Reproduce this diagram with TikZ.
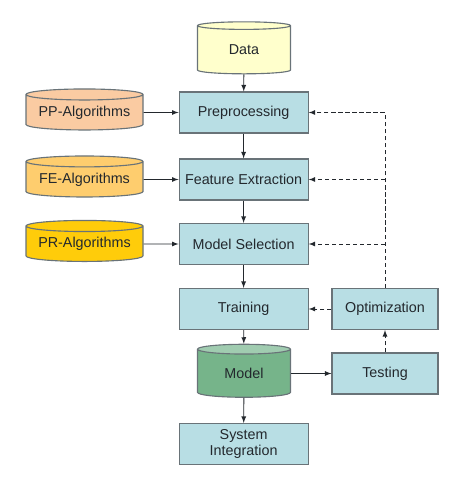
\documentclass[tikz,border=0pt]{standalone}
\usepackage{fontspec}
\setmainfont{Liberation Sans}
\usetikzlibrary{shapes.geometric}

\definecolor{linegray}{RGB}{105,115,120}
\definecolor{boxblue}{RGB}{184,222,228}
\definecolor{datayellow}{RGB}{255,255,204}
\definecolor{pppeach}{RGB}{250,203,162}
\definecolor{feorange}{RGB}{254,205,110}
\definecolor{prgold}{RGB}{255,204,10}
\definecolor{modelgreen}{RGB}{118,180,138}
\definecolor{modeltop}{RGB}{160,204,176}
\definecolor{textgray}{RGB}{35,40,45}

\tikzset{
  stepbox/.style={rectangle, draw=linegray, line width=0.8pt, fill=boxblue,
    minimum width=3.225cm, minimum height=1.025cm, inner sep=0pt,
    align=center, text=textgray, font=\fontsize{10.2}{12}\selectfont},
  store/.style={cylinder, shape border rotate=90, draw=linegray, line width=0.8pt,
    inner sep=0pt, text=textgray, font=\fontsize{10.2}{12}\selectfont},
  flow/.style={-latex, draw=textgray, line width=0.6pt},
  fback/.style={-latex, draw=textgray, line width=0.6pt, densely dashed}
}

\begin{document}
\begin{tikzpicture}[x=1cm, y=1cm]
  \useasboundingbox (0,0) rectangle (11.85,12.175);
  % Main column
  \node [store, aspect=0.25, minimum width=2.325cm, minimum height=1.3cm,
         fill=datayellow] (data) at (6.1,10.925) {Data};
  \node [stepbox] (pre) at (6.09,9.3625) {Preprocessing};
  \node [stepbox] (fe) at (6.09,7.6875) {Feature Extraction};
  \node [stepbox] (ms) at (6.09,6.075) {Model Selection};
  \node [stepbox] (train) at (6.09,4.45) {Training};
  \node [store, aspect=0.25, minimum width=2.325cm, minimum height=1.325cm,
         cylinder uses custom fill, cylinder body fill=modelgreen,
         cylinder end fill=modeltop] (model) at (6.1,2.8375) {Model};
  \node [stepbox] (si) at (6.09,1.075) {System\\Integration};
  % Right column
  \node [stepbox, minimum width=2.65cm] (opt) at (9.625,4.45) {Optimization};
  \node [stepbox, minimum width=2.65cm] (test) at (9.625,2.8375) {Testing};
  % Algorithm stores
  \node [store, aspect=0.12, minimum width=2.925cm, minimum height=1.025cm,
         fill=pppeach] (ppalg) at (2.1125,9.3625) {PP-Algorithms};
  \node [store, aspect=0.12, minimum width=2.925cm, minimum height=1.025cm,
         fill=feorange] (fealg) at (2.1125,7.6875) {FE-Algorithms};
  \node [store, aspect=0.12, minimum width=2.925cm, minimum height=1.025cm,
         fill=prgold] (pralg) at (2.1125,6.075) {PR-Algorithms};
  % Solid arrows
  \draw [flow] (data) -- (pre);
  \draw [flow] (pre) -- (fe);
  \draw [flow] (fe) -- (ms);
  \draw [flow] (ms) -- (train);
  \draw [flow] (train) -- (model);
  \draw [flow] (model) -- (si);
  \draw [flow] (model) -- (test);
  \draw [flow] (ppalg) -- (pre);
  \draw [flow] (fealg) -- (fe);
  \draw [flow] (pralg) -- (ms);
  % Dashed feedback
  \coordinate (fbpre) at (opt.north |- pre.east);
  \coordinate (fbfe) at (opt.north |- fe.east);
  \coordinate (fbms) at (opt.north |- ms.east);
  \draw [fback] (test) -- (opt);
  \draw [fback] (opt) -- (train);
  \draw [fback] (opt.north) -- (fbpre) -- (pre.east);
  \draw [fback] (fbfe) -- (fe.east);
  \draw [fback] (fbms) -- (ms.east);
\end{tikzpicture}
\end{document}
